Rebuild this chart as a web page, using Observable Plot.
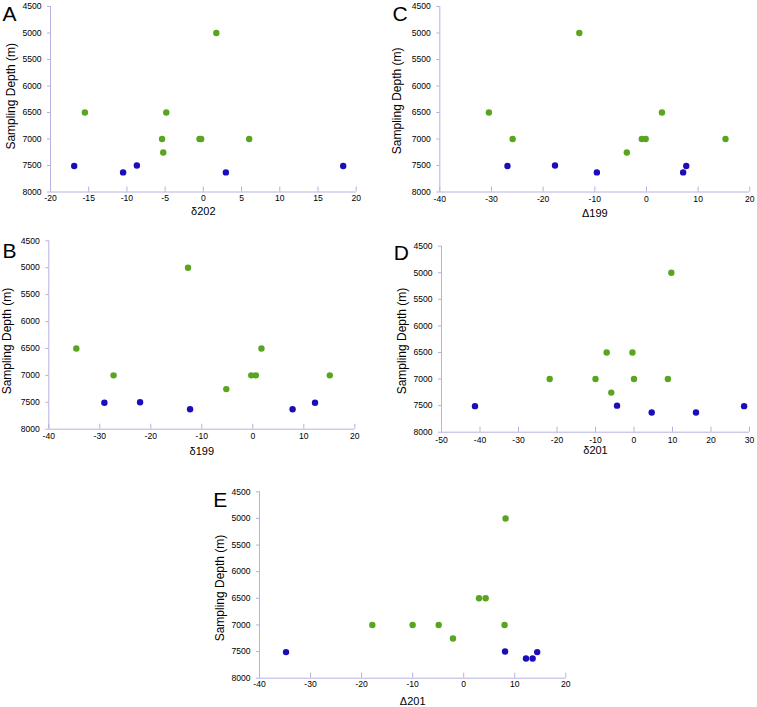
<!DOCTYPE html>
<html>
<head>
<meta charset="utf-8">
<script src="https://cdn.jsdelivr.net/npm/d3@7"></script>
<script src="https://cdn.jsdelivr.net/npm/@observablehq/plot@0.6"></script>
<style>
  html, body { margin: 0; padding: 0; background: white; }
  #root { position: relative; width: 757px; height: 707px; overflow: hidden; }
  #root svg { position: absolute; }
</style>
</head>
<body>
<div id="root"></div>
<script>
// ---- Data ----
const depthTicks = [4500, 5000, 5500, 6000, 6500, 7000, 7500, 8000];
const yLabel = "Sampling Depth (m)";

// green samples (shallower)
const greenDepth = [5000, 6500, 6500, 7000, 7000, 7000, 7000, 7255];
// blue samples (deepest)
const blueDepth = [7510, 7500, 7630, 7630, 7510];

// Panel A: δ202
const aGreen = [1.7, -15.5, -4.85, -5.4, -0.5, -0.28, 6.0, -5.25];
const aBlue = [-16.9, -8.7, -10.5, 2.95, 18.3];
const aTicks = [-20, -15, -10, -5, 0, 5, 10, 15, 20];
// Panel B: δ199
const bGreen = [-12.7, -34.6, 1.7, -27.3, -0.3, 0.6, 15.1, -5.2];
const bBlue = [-29.1, -22.1, -12.3, 7.8, 12.2];
const bTicks = [-40, -30, -20, -10, 0, 10, 20];
// Panel C: Δ199
const cGreen = [-13.0, -30.5, 3.0, -25.9, -0.9, -0.15, 15.3, -3.8];
const cBlue = [-26.9, -17.7, -9.6, 7.1, 7.7];
const cTicks = [-40, -30, -20, -10, 0, 10, 20];
// Panel D: δ201
const dGreen = [9.7, -7.1, -0.4, -21.9, -10.0, 0.0, 8.8, -5.9];
const dBlue = [-41.3, -4.4, 4.6, 16.1, 28.6];
const dTicks = [-50, -40, -30, -20, -10, 0, 10, 20, 30];
// Panel E: Δ201
const eGreen = [8.2, 3.0, 4.3, -17.9, -10.0, -4.9, 8.0, -2.1];
const eBlue = [-34.8, 8.1, 12.2, 13.5, 14.4];
const eTicks = [-40, -30, -20, -10, 0, 10, 20];

const GREEN = "#5aa51f";
const BLUE = "#1d0cbc";
const AXIS = "#b7b1e0";

function panel(o) {
  const green = greenDepth.map((d, i) => ({x: o.green[i], y: d}));
  const blue = blueDepth.map((d, i) => ({x: o.blue[i], y: d}));
  const xDomain = [o.ticks[0], o.ticks[o.ticks.length - 1]];
  const svg = Plot.plot({
    width: o.width, height: o.height,
    marginLeft: o.ml, marginRight: o.mr, marginTop: o.mt, marginBottom: o.mb,
    style: {fontFamily: "'Liberation Sans', Arial, sans-serif", fontSize: "8.6px", color: "black", background: "transparent", overflow: "visible"},
    x: {domain: xDomain},
    y: {domain: [depthTicks[0], depthTicks[depthTicks.length - 1]], reverse: true},
    marks: [
      Plot.ruleX([xDomain[0]], {stroke: AXIS}),
      Plot.ruleY([depthTicks[depthTicks.length - 1]], {stroke: AXIS}),
      Plot.axisY({ticks: depthTicks, tickSize: 3, tickPadding: 6, stroke: AXIS, fill: "black", label: null, tickFormat: d => String(d)}),
      Plot.axisX({ticks: o.ticks, tickSize: -5, stroke: AXIS, label: null, tickFormat: () => ""}),
      Plot.axisX({ticks: o.ticks, tickSize: 0, tickPadding: o.tp, fill: "black", label: null, tickFormat: d => String(d)}),
      Plot.dot(green, {x: "x", y: "y", r: 3.2, fill: GREEN, stroke: null}),
      Plot.dot(blue, {x: "x", y: "y", r: 3.2, fill: BLUE, stroke: null}),
      Plot.text([o.letter], {frameAnchor: "top-left", dx: o.ldx, dy: o.ldy, fontSize: 21, lineAnchor: "top", textAnchor: "start", fill: "black"}),
      Plot.text([yLabel], {frameAnchor: "left", dx: o.ydx, dy: o.ydy, rotate: -90, textAnchor: "middle", lineAnchor: "middle", fontSize: 12, fill: "black"}),
      Plot.text([o.xlabel], {frameAnchor: "bottom", dy: o.xdy, textAnchor: "middle", lineAnchor: "middle", fontSize: 11, fill: "black"})
    ]
  });
  svg.style.left = o.left + "px";
  svg.style.top = o.top + "px";
  document.getElementById("root").appendChild(svg);
}

panel({letter: "A", xlabel: "δ202", green: aGreen, blue: aBlue, ticks: aTicks,
  left: 0, top: 0, width: 380, height: 230, ml: 50, mr: 24.3, mt: 6, mb: 38.5, tp: 3.2,
  ldx: -48, ldy: 0, ydx: -39, ydy: -3, xdy: 19.5});
panel({letter: "B", xlabel: "δ199", green: bGreen, blue: bBlue, ticks: bTicks,
  left: 0, top: 230, width: 380, height: 230, ml: 48.3, mr: 25.7, mt: 10.3, mb: 31.3, tp: 3.3,
  ldx: -46.3, ldy: 2, ydx: -41.6, ydy: 6, xdy: 22});
panel({letter: "C", xlabel: "Δ199", green: cGreen, blue: cBlue, ticks: cTicks,
  left: 380, top: 0, width: 377, height: 230, ml: 59.3, mr: 7.7, mt: 6, mb: 38.5, tp: 4.2,
  ldx: -47.3, ldy: 0, ydx: -42.3, ydy: 1.6, xdy: 21.2});
panel({letter: "D", xlabel: "δ201", green: dGreen, blue: dBlue, ticks: dTicks,
  left: 380, top: 230, width: 377, height: 230, ml: 61, mr: 8, mt: 15.7, mb: 28.3, tp: 4.6,
  ldx: -47.7, ldy: -0.7, ydx: -39.3, ydy: 1.8, xdy: 18.3});
panel({letter: "E", xlabel: "Δ201", green: eGreen, blue: eBlue, ticks: eTicks,
  left: 190, top: 460, width: 400, height: 247, ml: 69, mr: 24.7, mt: 31.3, mb: 29.3, tp: 2.6,
  ldx: -46.3, ldy: 0.4, ydx: -39, ydy: 3, xdy: 23});
</script>
</body>
</html>
